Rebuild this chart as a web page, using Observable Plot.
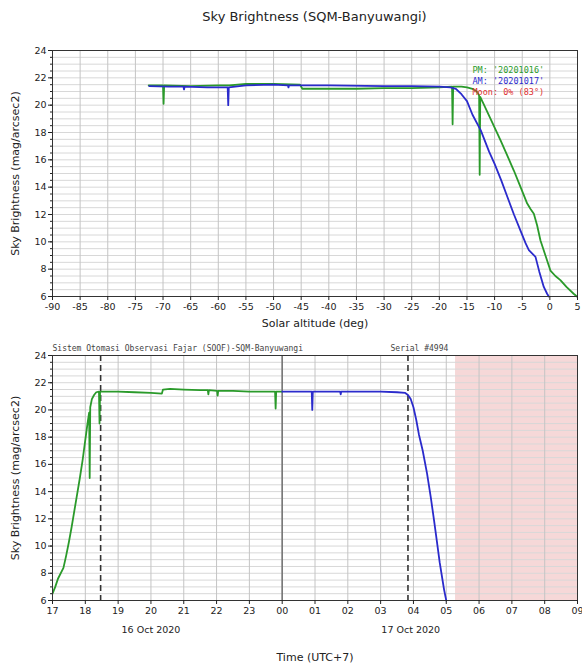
<!DOCTYPE html>
<html><head><meta charset="utf-8">
<script src="https://cdn.jsdelivr.net/npm/d3@7"></script>
<script src="https://cdn.jsdelivr.net/npm/@observablehq/plot@0.6"></script>
<style>
body{margin:0;background:#fff;font-family:"DejaVu Sans",sans-serif}
#wrap{position:relative;width:582px;height:667px;overflow:hidden;background:#fff}
#title{position:absolute;top:9px;left:0;width:629px;text-align:center;font-size:13px;color:#222}
#topPanel{position:absolute;top:30px;left:0}
#botPanel{position:absolute;top:336px;left:0}
</style></head><body>
<div id="wrap"><div id="title">Sky Brightness (SQM-Banyuwangi)</div><div id="topPanel"></div><div id="botPanel"></div></div>
<script>
// ---- data: top panel (solar altitude) ----
const pmAlt = [-72.6,-70,-69.9,-69.8,-65,-60,-58,-55,-50,-45.2,-44.8,-40,-35,-30,-25,-20,-17.7,-17.6,-17.5,-16,-15,-14,-13.2,-12.8,-12.7,-12.6,-12,-10.5,-8.9,-7.7,-6.5,-5.3,-4.1,-3.5,-2.9,-2.3,-1.7,-0.8,0.1,1.0,1.9,3.0,4.3,4.9];
const pmAltSky = [21.45,21.45,20.1,21.45,21.4,21.45,21.45,21.55,21.55,21.5,21.2,21.2,21.2,21.25,21.25,21.3,21.35,18.6,21.35,21.35,21.3,21.2,21.0,20.7,14.9,20.6,20.1,18.8,17.4,16.3,15.2,14.0,12.8,12.4,12.05,11.2,10.1,9.0,7.9,7.5,7.2,6.7,6.2,6.0];
const amAlt = [-72.5,-69,-66.3,-66.2,-66.1,-62,-58.3,-58.2,-58.1,-55,-50,-47.4,-47.3,-47.2,-40,-30,-25,-20,-18,-17,-16,-15,-14,-12.5,-11,-10,-8.8,-7.7,-6.5,-5.3,-4.4,-3.8,-2.6,-1.9,-1.1,-0.5,-0.2];
const amAltSky = [21.4,21.35,21.35,21.15,21.35,21.3,21.3,20.0,21.3,21.45,21.5,21.45,21.3,21.45,21.45,21.4,21.4,21.35,21.3,21.2,20.8,20.3,19.3,18.15,16.6,15.7,14.5,13.3,12.0,10.8,9.9,9.4,8.9,7.8,6.7,6.2,6.0];
const legendLabels = ["PM: '20201016'", "AM: '20201017'", "Moon: 0% (83°)"];
const legendColors = ["#2a9a2a", "#2b2bcc", "#e03030"];
const altTicks = [-90,-85,-80,-75,-70,-65,-60,-55,-50,-45,-40,-35,-30,-25,-20,-15,-10,-5,0,5];
const skyTicks = [6,8,10,12,14,16,18,20,22,24];

// ---- data: bottom panel (time, UTC+7) ----
const pmClock = ["17:00","17:05","17:10","17:20","17:25","17:30","17:35","17:40","17:45","17:50","17:55","18:00","18:04","18:07","18:08","18:09","18:12","18:16","18:20","18:25","18:26","18:27","19:00","19:30","20:00","20:20","20:22","20:35","21:00","21:30","21:44","21:45","21:46","22:01","22:02","22:03","22:30","23:00","23:47","23:48","23:49","23:59"];
const pmClockSky = [6.5,7.0,7.6,8.4,9.3,10.3,11.4,12.6,13.8,15.0,16.3,17.8,19.0,19.8,15.0,20.2,20.8,21.1,21.3,21.35,19.0,21.35,21.35,21.3,21.25,21.2,21.5,21.55,21.5,21.45,21.45,21.15,21.45,21.4,21.05,21.4,21.4,21.35,21.35,20.1,21.35,21.35];
const amClock = ["00:00","00:30","00:54","00:55","00:56","01:46","01:47","01:48","02:30","03:00","03:30","03:45","03:50","03:55","04:00","04:05","04:10","04:17","04:25","04:32","04:38","04:43","04:48","04:52","04:56","05:00"];
const amClockSky = [21.35,21.35,21.35,20.0,21.35,21.35,21.15,21.35,21.35,21.35,21.3,21.25,21.1,20.8,20.2,19.3,18.2,17.0,15.3,13.5,11.8,10.3,8.8,7.8,6.8,6.0];
const twilightMarks = [["16","18:28"],["17","03:50"]];
const midnight = ["17","00:00"];
const daylightSpan = [["17","05:17"],["17","09:00"]];
const timeSpan = [["16","17:00"],["17","09:00"]];
const dateLabels = [{day:"16", hm:"20:00", label:"16 Oct 2020"},{day:"17", hm:"03:55", label:"17 Oct 2020"}];
const headerLeft = "Sistem Otomasi Observasi Fajar (SOOF)-SQM-Banyuwangi";
const headerRight = "Serial #4994";

const T = (day, hm) => { const [h, m] = hm.split(":").map(Number); return new Date(Date.UTC(2020, 9, +day, h, m)); };
const green = legendColors[0], blue = legendColors[1];
const yMinor = d3.range(6, 24.001, 0.5);
const font = "DejaVu Sans";

// ---- top plot ----
const pmA = pmAlt.map((a, i) => ({a, v: pmAltSky[i]}));
const amA = amAlt.map((a, i) => ({a, v: amAltSky[i]}));
const topChart = Plot.plot({
  width: 582, height: 306,
  marginTop: 20, marginLeft: 52, marginRight: 5, marginBottom: 40,
  style: {fontFamily: font, fontSize: "9.5px", background: "#fff", color: "#222"},
  x: {domain: [-90, 5]},
  y: {domain: [6, 24]},
  marks: [
    Plot.ruleY(yMinor, {stroke: "#d8d8d8", strokeWidth: 1}),
    Plot.ruleX(altTicks, {stroke: "#c4c4c4", strokeWidth: 1}),
    Plot.line(pmA, {x: "a", y: "v", stroke: green, strokeWidth: 1.8}),
    Plot.line(amA, {x: "a", y: "v", stroke: blue, strokeWidth: 1.8}),
    ...legendLabels.map((t, i) => Plot.text([t], {frameAnchor: "top-right", dx: -105, dy: 16 + i * 11, textAnchor: "start", fill: legendColors[i], fontFamily: "DejaVu Sans Mono", fontSize: 8.5})),
    Plot.frame({stroke: "#333"}),
    Plot.axisX({ticks: altTicks, tickSize: 4, tickPadding: 3, label: null, tickFormat: d => String(d)}),
    Plot.axisY({ticks: skyTicks, tickSize: 4, tickPadding: 2, label: null}),
    Plot.axisY({ticks: yMinor, tickSize: 2, tickFormat: () => "", label: null}),
    Plot.text(["Solar altitude (deg)"], {frameAnchor: "bottom", dy: 30, fontSize: 11, fill: "#222"}),
    Plot.text(["Sky Brightness (mag/arcsec2)"], {frameAnchor: "left", dx: -37, rotate: -90, textAnchor: "middle", fontSize: 11, fill: "#222"})
  ]
});
document.getElementById("topPanel").appendChild(topChart);

// ---- bottom plot ----
const pmT = pmClock.map((hm, i) => ({t: T("16", hm), v: pmClockSky[i]}));
const amT = amClock.map((hm, i) => ({t: T("17", hm), v: amClockSky[i]}));
const hours = d3.utcHour.range(T(...timeSpan[0]), new Date(+T(...timeSpan[1]) + 1));
const botChart = Plot.plot({
  width: 582, height: 331,
  marginTop: 19, marginLeft: 52, marginRight: 5, marginBottom: 67,
  style: {fontFamily: font, fontSize: "9.5px", background: "#fff", color: "#222"},
  x: {type: "utc", domain: [T(...timeSpan[0]), T(...timeSpan[1])]},
  y: {domain: [6, 24]},
  marks: [
    Plot.rect([{x1: T(...daylightSpan[0]), x2: T(...daylightSpan[1])}], {x1: "x1", x2: "x2", y1: 6, y2: 24, fill: "#f6d8d8"}),
    Plot.ruleY(yMinor, {stroke: "#d8d8d8", strokeWidth: 1}),
    Plot.ruleX(hours, {stroke: "#c4c4c4", strokeWidth: 1}),
    Plot.ruleX([T(...midnight)], {stroke: "#777", strokeWidth: 1.6}),
    Plot.ruleX(twilightMarks.map(d => T(...d)), {stroke: "#333", strokeWidth: 1.6, strokeDasharray: "6,4"}),
    Plot.line(pmT, {x: "t", y: "v", stroke: green, strokeWidth: 1.8}),
    Plot.line(amT, {x: "t", y: "v", stroke: blue, strokeWidth: 1.8}),
    Plot.frame({stroke: "#333"}),
    Plot.axisX({ticks: hours, tickSize: 4, tickPadding: 3, label: null, tickFormat: d3.utcFormat("%H")}),
    Plot.axisY({ticks: skyTicks, tickSize: 4, tickPadding: 2, label: null}),
    Plot.axisY({ticks: yMinor, tickSize: 2, tickFormat: () => "", label: null}),
    Plot.text([headerLeft], {frameAnchor: "top-left", dy: -5, lineAnchor: "bottom", textAnchor: "start", fontFamily: "DejaVu Sans Mono", fontSize: 8, fill: "#444"}),
    Plot.text([headerRight], {frameAnchor: "top-left", dx: 338, dy: -5, lineAnchor: "bottom", textAnchor: "start", fontFamily: "DejaVu Sans Mono", fontSize: 8, fill: "#444"}),
    Plot.text(dateLabels, {x: d => T(d.day, d.hm), text: "label", frameAnchor: "bottom", dy: 32, fontSize: 9.5, fill: "#222"}),
    Plot.text(["Time (UTC+7)"], {frameAnchor: "bottom", dy: 60, fontSize: 11, fill: "#222"}),
    Plot.text(["Sky Brightness (mag/arcsec2)"], {frameAnchor: "left", dx: -37, rotate: -90, textAnchor: "middle", fontSize: 11, fill: "#222"})
  ]
});
document.getElementById("botPanel").appendChild(botChart);
</script>
</body></html>
